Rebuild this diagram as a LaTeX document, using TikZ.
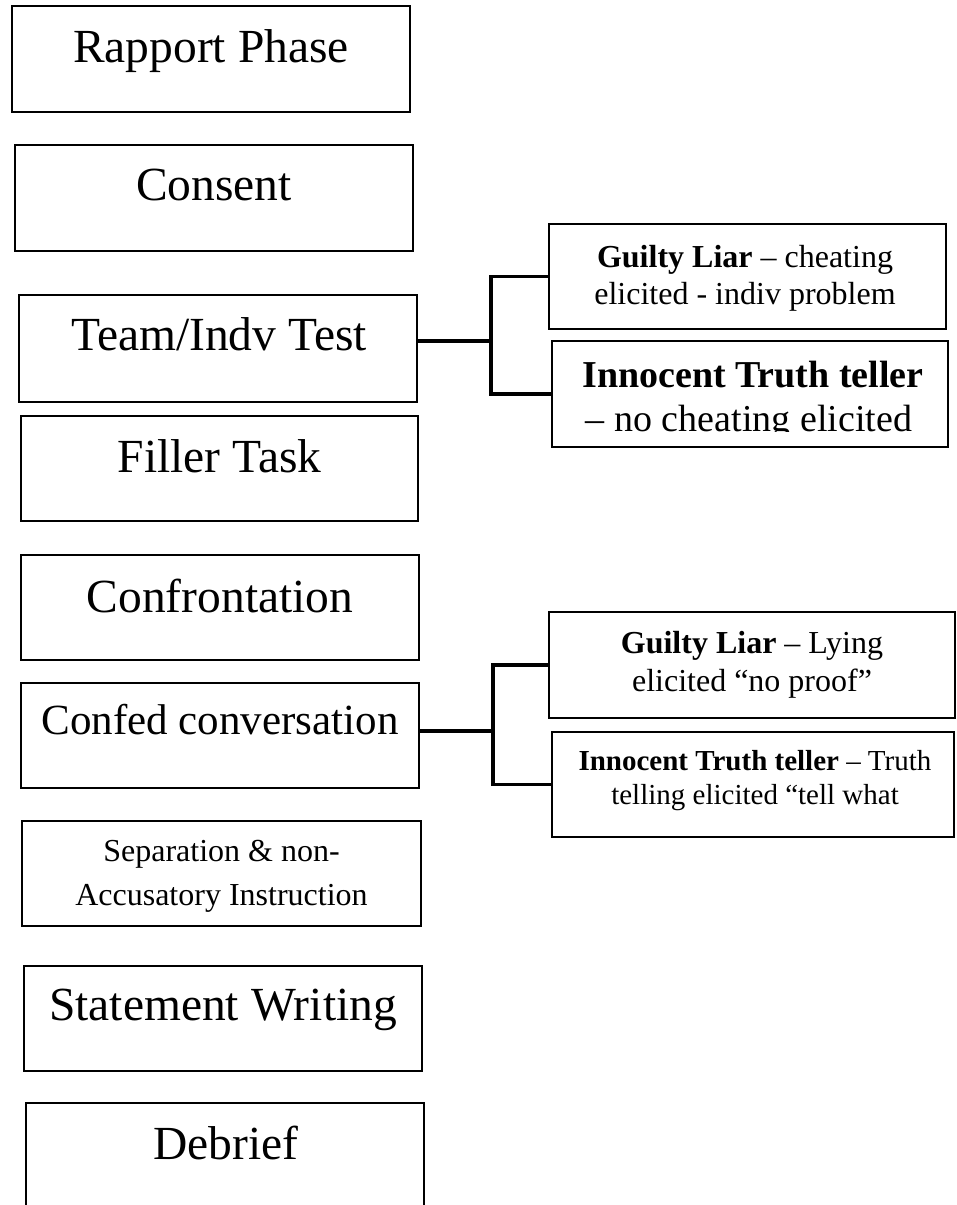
\documentclass[tikz,border=0pt]{standalone}
\usepackage{fontspec}
\setmainfont{Liberation Serif}
\newcommand{\fsz}[1]{\fontsize{#1pt}{#1pt}\selectfont}
\begin{document}
\begin{tikzpicture}[x=1pt,y=-1pt,
  stage/.style={draw, line width=2pt, inner sep=0pt},
  lbl/.style={anchor=base, inner sep=0pt},
  mainlbl/.style={lbl, font=\fsz{47.5}},
  conn/.style={line width=3.3pt}]
\useasboundingbox (0,0) rectangle (956,1205);
\clip (0,0) rectangle (956,1205);

% main column boxes
\node[stage, minimum width=398pt, minimum height=106pt] (rap) at (211,59) {};
\node[mainlbl] (rapT) at (211,62) {Rapport Phase};

\node[stage, minimum width=398pt, minimum height=106pt] (con) at (214,198) {};
\node[mainlbl] (conT) at (214,200) {Consent};

\node[stage, minimum width=398pt, minimum height=107pt] (team) at (218,348.5) {};
\node[mainlbl] (teamT) at (219,350) {Team/Indv Test};

\node[stage, minimum width=397pt, minimum height=105pt] (fill) at (219.5,468.5) {};
\node[mainlbl] (fillT) at (219.5,472) {Filler Task};

\node[stage, minimum width=398pt, minimum height=105pt] (confr) at (220,607.5) {};
\node[mainlbl] (confrT) at (220,612) {Confrontation};

\node[stage, minimum width=398pt, minimum height=105pt] (confed) at (220,735.5) {};
\node[lbl, font=\fsz{43}] (confedT) at (220,734) {Confed conversation};

\node[stage, minimum width=399pt, minimum height=105pt] (sep) at (221.5,873.5) {};
\node[lbl, font=\fsz{32}] (sepA) at (221.5,861) {Separation \& non-};
\node[lbl, font=\fsz{32}] (sepB) at (221.5,905) {Accusatory Instruction};

\node[stage, minimum width=398pt, minimum height=105pt] (stmt) at (223,1018.5) {};
\node[mainlbl] (stmtT) at (223,1020) {Statement Writing};

\node[stage, minimum width=398pt, minimum height=112pt] (deb) at (225,1159) {};
\node[mainlbl] (debT) at (226,1159) {Debrief};

% first outcome pair
\node[stage, minimum width=397pt, minimum height=105pt] (g1) at (747.5,276.5) {};
\node[lbl, font=\fsz{32}] (g1A) at (745,267) {\textbf{Guilty Liar} – cheating};
\node[lbl, font=\fsz{32}] (g1B) at (745,304) {elicited - indiv problem};

\node[stage, minimum width=396pt, minimum height=106pt] (i1) at (750,394) {};
\begin{scope}
\clip (552,341) rectangle (948,431);
\node[lbl, font=\fsz{38}] (i1A) at (753,387) {\textbf{Innocent Truth teller}};
\node[lbl, font=\fsz{38}] (i1B) at (749,431) {– no cheating elicited};
\end{scope}

% second outcome pair
\node[stage, minimum width=406pt, minimum height=106pt] (g2) at (752,665) {};
\node[lbl, font=\fsz{32}] (g2A) at (752,653) {\textbf{Guilty Liar} – Lying};
\node[lbl, font=\fsz{32}] (g2B) at (752,691) {elicited “no proof”};

\node[stage, minimum width=402pt, minimum height=105pt] (i2) at (753,784.5) {};
\node[lbl, font=\fsz{29}] (i2A) at (755,770) {\textbf{Innocent Truth teller} – Truth};
\node[lbl, font=\fsz{29}] (i2B) at (755,804) {telling elicited “tell what};

% connectors
\coordinate (j1) at (491,341);
\draw[conn] (j1 -| team.east) -- (j1);
\draw[conn] (g1.west) -| (j1) |- (i1.west);

\coordinate (j2) at (493,731);
\draw[conn] (j2 -| confed.east) -- (j2);
\draw[conn] (g2.west) -| (j2) |- (i2.west);
\end{tikzpicture}
\end{document}
